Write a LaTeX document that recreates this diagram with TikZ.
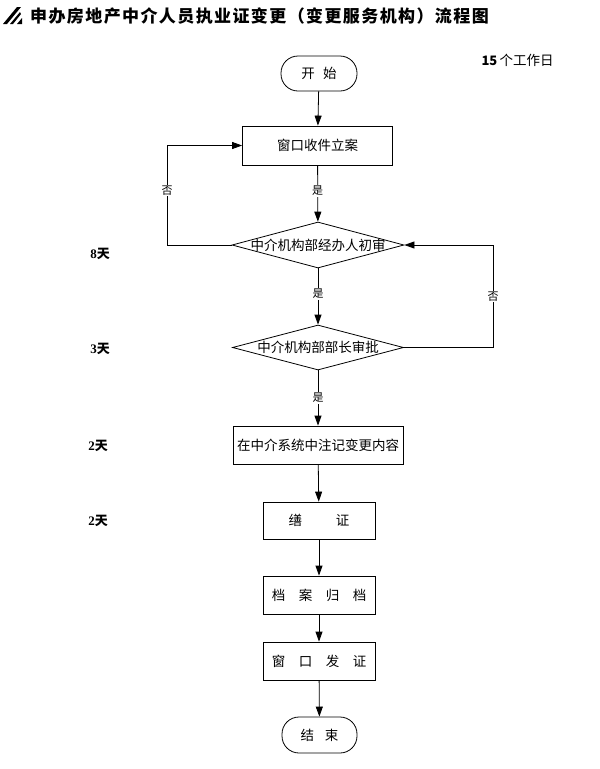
\documentclass[tikz,border=0pt]{standalone}
\usepackage{fontspec}
\setmainfont{Liberation Serif}
\newfontfamily\cjk{Noto Sans CJK SC}
\usetikzlibrary{shapes.geometric,arrows.meta}
\tikzset{
  every node/.style={font=\cjk\fontsize{13.5}{15}\selectfont},
  box/.style={draw, line width=0.8pt, rectangle, inner sep=0pt},
  term/.style={draw, line width=0.8pt, rectangle, rounded corners=17pt, inner sep=0pt, minimum width=76pt, minimum height=35pt},
  dia/.style={draw, line width=0.8pt, diamond, inner sep=0pt},
  arr/.style={line width=0.8pt, -{Triangle[length=10pt,width=7pt]}},
  yes/.style={fill=white, inner sep=1pt, font=\cjk\fontsize{11}{12}\selectfont},
  days/.style={font=\bfseries\fontsize{13}{14}\selectfont},
}
\begin{document}
\begin{tikzpicture}[x=1pt,y=-1pt]
\useasboundingbox (0,0) rectangle (600,769);
% title icon
\fill (3,24) -- (17,7) -- (21,7) -- (7,24) -- cycle;
\fill (10,24) -- (20,12) -- (21,14) -- (13,24) -- cycle;
\fill (17,24) -- (22,18) -- (22,24) -- cycle;
\node[anchor=west, inner sep=0pt, font=\cjk\bfseries\fontsize{17}{18}\selectfont] (title) at (30,16)
  {申\hspace{1.4pt}办\hspace{1.4pt}房\hspace{1.4pt}地\hspace{1.4pt}产\hspace{1.4pt}中\hspace{1.4pt}介\hspace{1.4pt}人\hspace{1.4pt}员\hspace{1.4pt}执\hspace{1.4pt}业\hspace{1.4pt}证\hspace{1.4pt}变\hspace{1.4pt}更\hspace{1.4pt}（\hspace{1.4pt}变\hspace{1.4pt}更\hspace{1.4pt}服\hspace{1.4pt}务\hspace{1.4pt}机\hspace{1.4pt}构\hspace{1.4pt}）\hspace{1.4pt}流\hspace{1.4pt}程\hspace{1.4pt}图};
\node[anchor=west] (total) at (478,60) {{\bfseries\fontsize{13}{14}\selectfont 15}\,个工作日};

\node[term] (start) at (319,73.5) {开\hspace{0.6em}始};
\node[box, minimum width=150pt, minimum height=39pt] (r1) at (317.5,145.5) {窗口收件立案};
\node[dia, minimum width=172pt, minimum height=46pt, label={center:中介机构部经办人初审}] (d1) at (318,245) {};
\node[dia, minimum width=171pt, minimum height=45pt, label={center:中介机构部部长审批}] (d2) at (318,347.5) {};
\node[box, minimum width=170pt, minimum height=38pt] (r3) at (318,445) {在中介系统中注记变更内容};
\node[box, minimum width=112pt, minimum height=37pt] (r4) at (319,520.5) {缮\hspace{2.5em}证};
\node[box, minimum width=112pt, minimum height=38pt] (r5) at (319,595) {档\hspace{1em}案\hspace{1em}归\hspace{1em}档};
\node[box, minimum width=112pt, minimum height=38pt] (r6) at (319,661) {窗\hspace{1em}口\hspace{1em}发\hspace{1em}证};
\node[term, minimum width=75pt, minimum height=36pt] (end) at (319.5,735) {结\hspace{0.8em}束};

\node[days] (t1) at (100,254) {8{\cjk 天}};
\node[days] (t2) at (100,349) {3{\cjk 天}};
\node[days] (t3) at (98,446) {2{\cjk 天}};
\node[days] (t4) at (98,521) {2{\cjk 天}};

\draw[arr] (start) -- (r1);
\draw[arr] (r1) -- node[yes, pos=0.45] {是} (d1);
\draw[arr] (d1) -- node[yes, pos=0.45] {是} (d2);
\draw[arr] (d2) -- node[yes, pos=0.5] {是} (r3);
\draw[arr] (r3) -- (r4);
\draw[arr] (r4) -- (r5);
\draw[arr] (r5) -- (r6);
\draw[arr] (r6) -- (end);

\coordinate (lc) at (167,245);
\coordinate (rc) at (493,347.5);
\draw[arr] (d1.west) -- (lc) -- node[yes, pos=0.55] {否} (lc |- r1.west) -- (r1.west);
\draw[arr] (d2.east) -- (rc) -- node[yes, pos=0.5] {否} (rc |- d1.east) -- (d1.east);
\end{tikzpicture}
\end{document}
